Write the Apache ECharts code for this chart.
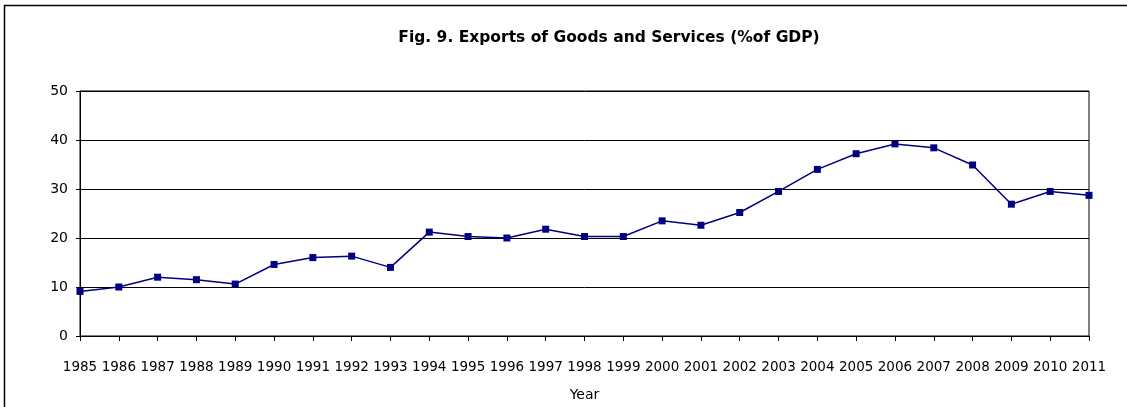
<!DOCTYPE html>
<html>
<head>
<meta charset="utf-8">
<script src="https://cdn.jsdelivr.net/npm/echarts@6/dist/echarts.min.js"></script>
<style>
  html, body { margin: 0; padding: 0; background: #fff; }
  #chart { width: 1127px; height: 407px; }
</style>
</head>
<body>
<div id="chart"></div>
<script>
// Exports of goods and services, % of GDP, by year
const years = ['1985','1986','1987','1988','1989','1990','1991','1992','1993','1994',
  '1995','1996','1997','1998','1999','2000','2001','2002','2003','2004',
  '2005','2006','2007','2008','2009','2010','2011'];
const exportsPct = [9.1, 10.0, 12.0, 11.5, 10.6, 14.6, 16.0, 16.3, 14.0, 21.2,
  20.3, 20.0, 21.8, 20.3, 20.3, 23.5, 22.6, 25.2, 29.5, 34.0,
  37.2, 39.2, 38.4, 34.9, 26.9, 29.5, 28.7];
const yTicks = [0, 10, 20, 30, 40, 50];

const chart = echarts.init(document.getElementById('chart'), null, { renderer: 'canvas' });
const font = 'DejaVu Sans';

chart.setOption({
  animation: false,
  backgroundColor: '#ffffff',
  title: {
    text: 'Fig. 9. Exports of Goods and Services (%of GDP)',
    left: 604, top: 25, textAlign: 'center',
    textStyle: { fontFamily: font, fontSize: 15.5, fontWeight: 'bold', color: '#000' }
  },
  grid: { left: 80, right: 38, top: 91, bottom: 68, containLabel: false,
    show: true, borderColor: '#000', borderWidth: 1 },
  xAxis: {
    type: 'category',
    data: years,
    boundaryGap: false,
    name: 'Year',
    nameLocation: 'middle',
    nameGap: 52,
    nameTextStyle: { fontFamily: font, fontSize: 14, color: '#000' },
    axisLine: { lineStyle: { color: '#000', width: 1 } },
    axisTick: { show: true, alignWithLabel: true, length: 5, lineStyle: { color: '#000' } },
    axisLabel: { interval: 0, margin: 24, fontFamily: font, fontSize: 13.5, color: '#000' },
    splitLine: { show: false }
  },
  yAxis: {
    type: 'value',
    min: yTicks[0], max: yTicks[yTicks.length - 1], interval: 10,
    axisLine: { show: true, lineStyle: { color: '#000', width: 1 } },
    axisTick: { show: true, length: 4, lineStyle: { color: '#000' } },
    axisLabel: { margin: 12, fontFamily: font, fontSize: 14, color: '#000' },
    splitLine: { show: true, lineStyle: { color: '#000', width: 1 } }
  },
  graphic: [
    { type: 'line', shape: { x1: 4, y1: 5.5, x2: 1127, y2: 5.5 },
      style: { stroke: '#000', lineWidth: 1.5 }, silent: true },
    { type: 'line', shape: { x1: 4.5, y1: 5, x2: 4.5, y2: 407 },
      style: { stroke: '#000', lineWidth: 1.5 }, silent: true }
  ],
  series: [{
    type: 'line',
    data: exportsPct,
    symbol: 'rect',
    symbolSize: 7,
    showAllSymbol: true,
    lineStyle: { color: '#000080', width: 1.5 },
    itemStyle: { color: '#000080' }
  }]
});
</script>
</body>
</html>
